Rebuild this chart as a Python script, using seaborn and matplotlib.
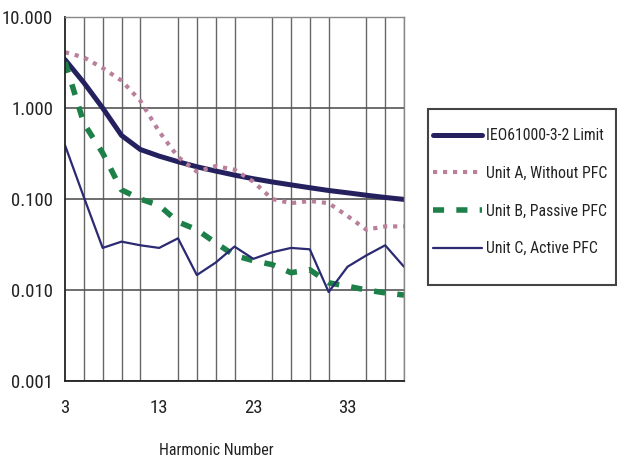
import numpy as np
import pandas as pd
import seaborn as sns
import matplotlib.pyplot as plt
from matplotlib import font_manager
from matplotlib.patches import Rectangle
from matplotlib.ticker import FixedLocator, FixedFormatter, NullLocator

# harmonic orders (odd)
harmonics = [3, 5, 7, 9, 11, 13, 15, 17, 19, 21, 23, 25, 27, 29, 31, 33, 35, 37, 39]

# values (log scale)
limit = [3.4, 1.9, 1.0, 0.5, 0.35, 0.296, 0.257, 0.226, 0.203, 0.183, 0.167,
         0.154, 0.143, 0.133, 0.124, 0.117, 0.110, 0.104, 0.099]
unit_a = [4.1, 3.6, 2.75, 2.0, 1.2, 0.55, 0.29, 0.20, 0.23, 0.21, 0.155,
          0.10, 0.09, 0.095, 0.09, 0.065, 0.046, 0.05, 0.05]
unit_b = [3.2, 0.68, 0.32, 0.126, 0.10, 0.085, 0.056, 0.046, 0.033, 0.024, 0.021,
          0.019, 0.0155, 0.0167, 0.012, 0.011, 0.010, 0.0093, 0.0088]
unit_c = [0.39, 0.105, 0.029, 0.034, 0.031, 0.029, 0.037, 0.0146, 0.020, 0.030, 0.022,
          0.026, 0.029, 0.028, 0.0095, 0.018, 0.024, 0.031, 0.018]

labels = ["IEO61000-3-2 Limit", "Unit A, Without PFC", "Unit B, Passive PFC", "Unit C, Active PFC"]
y_ticks = [0.001, 0.01, 0.1, 1, 10]
y_ticklabels = ["0.001", "0.010", "0.100", "1.000", "10.000"]
x_ticks = [3, 13, 23, 33]


def pick_narrow_font():
    # the original uses an Arial Narrow look; take the narrowest family on hand
    fonts = {(f.name, f.stretch) for f in font_manager.fontManager.ttflist}
    names = {n for n, _ in fonts}
    for name in ['Liberation Sans Narrow', 'Roboto Condensed', 'Open Sans Condensed',
                 'Noto Sans Condensed']:
        if name in names:
            return name, 'normal'
    for name in ['Roboto', 'Noto Sans', 'DejaVu Sans', 'Open Sans']:
        for n, s in fonts:
            if n == name and s in ('condensed', 'semi-condensed', 'extra-condensed', 75, 87):
                return name, 'condensed'
    return 'Liberation Sans', 'normal'


def main():
    sns.set_style("white")
    fam, stretch = pick_narrow_font()
    plt.rcParams['font.family'] = [fam, 'DejaVu Sans']
    plt.rcParams['font.stretch'] = stretch

    fig = plt.figure(figsize=(6.17, 4.67), dpi=100)
    ax = fig.add_axes([65 / 617, 1 - 381 / 467, 339 / 617, 364 / 467])

    sns.lineplot(x=harmonics, y=limit, ax=ax, color='#24215e', linewidth=3.6,
                 label=labels[0], solid_capstyle='round')
    sns.lineplot(x=harmonics, y=unit_a, ax=ax, color='#b8809a', linewidth=3.0,
                 label=labels[1])
    sns.lineplot(x=harmonics, y=unit_b, ax=ax, color='#1d8048', linewidth=4.0,
                 label=labels[2])
    sns.lineplot(x=harmonics, y=unit_c, ax=ax, color='#2b2a72', linewidth=1.6,
                 label=labels[3])

    lines = ax.get_lines()
    lines[1].set_dashes([1.0, 1.4])
    lines[1].set_dash_capstyle('butt')
    lines[2].set_dashes([2.0, 2.2])
    lines[2].set_dash_capstyle('butt')

    ax.set_yscale('log')
    ax.set_ylim(0.001, 10)
    ax.set_xlim(3, 39)

    ax.yaxis.set_major_locator(FixedLocator(y_ticks))
    ax.yaxis.set_major_formatter(FixedFormatter(y_ticklabels))
    ax.yaxis.set_minor_locator(NullLocator())
    ax.xaxis.set_major_locator(FixedLocator(x_ticks))
    ax.xaxis.set_minor_locator(FixedLocator(harmonics))

    ax.grid(True, which='major', axis='y', color='#555555', linewidth=1.2)
    ax.grid(True, which='minor', axis='x', color='#666666', linewidth=1.0)
    ax.set_axisbelow(True)

    ax.tick_params(axis='both', which='major', labelsize=13.5, length=5, width=1.2,
                   color='#222222', labelcolor='#222222', direction='out')
    ax.tick_params(axis='x', which='minor', length=0)
    ax.tick_params(axis='x', which='major', pad=8)

    for side in ['left', 'bottom']:
        ax.spines[side].set_color('#222222')
        ax.spines[side].set_linewidth(1.3)
    for side in ['top', 'right']:
        ax.spines[side].set_color('#888888')
        ax.spines[side].set_linewidth(1.0)

    ax.set_xlabel("Harmonic Number", fontsize=11.5, color='#222222')
    ax.xaxis.set_label_coords(0.445, -0.17)
    ax.set_ylabel("")

    # legend without its own frame; box drawn separately to match the original
    leg = ax.legend(loc='upper left', bbox_to_anchor=(433 / 617, 1 - 128 / 467),
                    bbox_transform=fig.transFigure, frameon=False,
                    fontsize=11.3, handlelength=3.1, handletextpad=0.3,
                    labelspacing=1.45, borderpad=0, borderaxespad=0)
    for t in leg.get_texts():
        t.set_color('#222222')
    fig.add_artist(Rectangle((428 / 617, 1 - 285 / 467), 188 / 617, 176 / 467,
                             transform=fig.transFigure, fill=False,
                             edgecolor='#444444', linewidth=1.5))

    fig.savefig("out.png", dpi=100)


if __name__ == "__main__":
    main()
